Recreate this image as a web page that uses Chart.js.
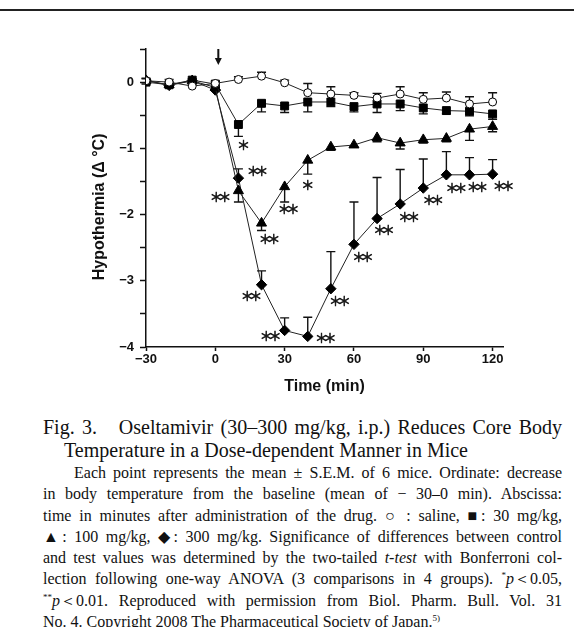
<!DOCTYPE html>
<html>
<head>
<meta charset="utf-8">
<script src="https://cdn.jsdelivr.net/npm/chart.js@4"></script>
<style>
  html, body { margin: 0; padding: 0; background: #fff; }
  body { width: 574px; height: 627px; position: relative; overflow: hidden; }
  #rule { position: absolute; left: 0; top: 9px; width: 574px; height: 2px; background: #222; }
  #wrap { position: absolute; left: 0; top: 0; width: 574px; height: 400px; }
  #cap { position: absolute; left: 43px; top: 416px; width: 519px; font-family: "Liberation Serif", "Times New Roman", serif; font-size: 20px; line-height: 23px; color: #111; }
  #cap .l1 { text-align: justify; text-align-last: justify; white-space: nowrap; }
  #cap .l2 { padding-left: 21px; white-space: nowrap; }
  #body { position: absolute; left: 43px; top: 462px; width: 519px; font-family: "Liberation Serif", "Times New Roman", serif; font-size: 16px; line-height: 21.3px; color: #111; }
  #body div { text-align: justify; text-align-last: justify; white-space: nowrap; }
  #body div.first { padding-left: 31px; }
  #body div.last { text-align-last: left; }
  sup { font-size: 9px; line-height: 0; }
</style>
</head>
<body>
<div id="rule"></div>
<div id="wrap"><canvas id="c"></canvas></div>
<div id="cap">
  <div class="l1">Fig. 3.&nbsp;&nbsp; Oseltamivir (30–300 mg/kg, i.p.) Reduces Core Body</div>
  <div class="l2">Temperature in a Dose-dependent Manner in Mice</div>
</div>
<div id="body">
  <div class="first">Each point represents the mean ± S.E.M. of 6 mice. Ordinate: decrease</div>
  <div>in body temperature from the baseline (mean of − 30–0 min). Abscissa:</div>
  <div>time in minutes after administration of the drug. ○ : saline, ■: 30 mg/kg,</div>
  <div>▲: 100 mg/kg, ◆: 300 mg/kg. Significance of differences between control</div>
  <div>and test values was determined by the two-tailed <i>t-test</i> with Bonferroni col-</div>
  <div>lection following one-way ANOVA (3 comparisons in 4 groups). <sup>*</sup><i>p</i>＜0.05,</div>
  <div><sup>**</sup><i>p</i>＜0.01. Reproduced with permission from Biol. Pharm. Bull. Vol. 31</div>
  <div class="last">No. 4. Copyright 2008 The Pharmaceutical Society of Japan.<sup>5)</sup></div>
</div>
<script>
// ---- data ----
const times = [-30, -20, -10, 0, 10, 20, 30, 40, 50, 60, 70, 80, 90, 100, 110, 120];
const saline    = [0.02, 0.00, -0.06, -0.02, 0.04, 0.09, -0.01, -0.16, -0.18, -0.20, -0.24, -0.18, -0.26, -0.24, -0.33, -0.30];
const salineErr = [0.03, 0.04, 0.03, 0.03, 0.04, 0.06, 0.04, 0.14, 0.11, 0.04, 0.07, 0.11, 0.10, 0.09, 0.11, 0.14];
const dose30    = [0.00, -0.04, 0.03, -0.03, -0.64, -0.32, -0.36, -0.30, -0.30, -0.37, -0.33, -0.33, -0.39, -0.43, -0.44, -0.48];
const dose30Err = [0.03, 0.03, 0.03, 0.03, 0.18, 0.13, 0.10, 0.15, 0.07, 0.08, 0.13, 0.10, 0.09, 0.05, 0.07, 0.08];
const dose100   = [0.02, -0.04, 0.02, -0.08, -1.64, -2.13, -1.58, -1.18, -0.98, -0.95, -0.84, -0.92, -0.87, -0.85, -0.71, -0.67];
const dose100Err= [0.03, 0.03, 0.03, 0.03, 0.17, 0.11, 0.23, 0.21, 0.05, 0.03, 0.06, 0.09, 0.05, 0.05, 0.17, 0.08];
const dose300   = [0.03, -0.05, 0.02, -0.12, -1.45, -3.06, -3.75, -3.84, -3.12, -2.45, -2.06, -1.84, -1.60, -1.40, -1.40, -1.39];
const dose300Err= [0.03, 0.03, 0.03, 0.04, 0.14, 0.21, 0.19, 0.29, 0.56, 0.64, 0.62, 0.52, 0.44, 0.35, 0.26, 0.22];
const xTicks = [-30, 0, 30, 60, 90, 120];
const yTicks = [0.5, 0, -0.5, -1, -1.5, -2, -2.5, -3, -3.5, -4];
// significance marks: [series, time index, label]
const sigMarks = [
  [1, 4, '*'], [3, 4, '**'], [2, 4, '**'], [2, 5, '**'], [2, 6, '**'], [2, 7, '*'],
  [3, 5, '**'], [3, 6, '**'], [3, 7, '**'], [3, 8, '**'], [3, 9, '**'], [3, 10, '**'],
  [3, 11, '**'], [3, 12, '**'], [3, 13, '**'], [3, 14, '**'], [3, 15, '**']
];
// label offsets (px) from the point
const sigOffsets = [
  [5, 21], [19, -7], [-18, 6], [8, 16], [4, 22], [0, 25],
  [-10, 11], [-14, 6], [18, 2], [9, 12], [9, 13], [7, 12],
  [9, 13], [10, 12], [10, 13], [8, 12], [11, 12]
];

const pts = (vals) => times.map((t, i) => ({x: t, y: vals[i]}));

const errorBars = {
  id: 'errorBars',
  beforeDatasetsDraw(chart) {
    const ctx = chart.ctx, y = chart.scales.y;
    ctx.save();
    ctx.strokeStyle = '#111';
    ctx.lineWidth = 1.4;
    chart.data.datasets.forEach((ds, di) => {
      const meta = chart.getDatasetMeta(di);
      meta.data.forEach((el, i) => {
        const v = ds.data[i].y, e = ds.err[i] * ds.dir;
        const py = y.getPixelForValue(v + e);
        ctx.beginPath();
        ctx.moveTo(el.x, el.y);
        ctx.lineTo(el.x, py);
        ctx.moveTo(el.x - 4.5, py);
        ctx.lineTo(el.x + 4.5, py);
        ctx.stroke();
      });
    });
    ctx.restore();
  },
  afterDatasetsDraw(chart) {
    const ctx = chart.ctx;
    ctx.save();
    ctx.fillStyle = '#111';
    ctx.strokeStyle = '#111';
    ctx.lineWidth = 0.6;
    ctx.font = '13px "Noto Sans CJK JP"';
    ctx.textAlign = 'center';
    ctx.textBaseline = 'middle';
    const gap = 8.6;
    sigMarks.forEach(([s, i, lab], k) => {
      const el = chart.getDatasetMeta(s).data[i];
      const cx = el.x + sigOffsets[k][0], cy = el.y + sigOffsets[k][1];
      const n = lab.length;
      for (let j = 0; j < n; j++) {
        const gx = cx + (j - (n - 1) / 2) * gap;
        ctx.fillText('＊', gx, cy);
        ctx.strokeText('＊', gx, cy);
      }
    });
    // drug administration arrow at time 0
    const ax = chart.scales.x.getPixelForValue(0) + 3;
    const top = chart.chartArea.top;
    ctx.fillRect(ax - 1, top, 2, 11);
    ctx.beginPath();
    ctx.moveTo(ax - 3.5, top + 9);
    ctx.lineTo(ax + 3.5, top + 9);
    ctx.lineTo(ax, top + 16);
    ctx.closePath();
    ctx.fill();
    ctx.restore();
  }
};

const common = { borderColor: '#222', borderWidth: 1, pointBorderColor: '#000', pointBorderWidth: 1, fill: false, tension: 0 };

new Chart(document.getElementById('c'), {
  type: 'line',
  data: {
    datasets: [
      Object.assign({}, common, { label: 'saline', data: pts(saline), err: salineErr, dir: 1, pointStyle: 'circle', pointRadius: 4, pointBackgroundColor: '#fff' }),
      Object.assign({}, common, { label: '30 mg/kg', data: pts(dose30), err: dose30Err, dir: -1, pointStyle: 'rect', pointRadius: 5.6, pointBackgroundColor: '#000' }),
      Object.assign({}, common, { label: '100 mg/kg', data: pts(dose100), err: dose100Err, dir: -1, pointStyle: 'triangle', pointRadius: 5.8, pointBackgroundColor: '#000' }),
      Object.assign({}, common, { label: '300 mg/kg', data: pts(dose300), err: dose300Err, dir: 1, pointStyle: 'rectRot', pointRadius: 5.2, pointBackgroundColor: '#000' })
    ]
  },
  options: {
    responsive: true,
    maintainAspectRatio: false,
    animation: false,
    layout: { padding: { left: 0, right: 71, top: 49, bottom: 0 } },
    plugins: { legend: { display: false }, tooltip: { enabled: false } },
    scales: {
      x: {
        type: 'linear', min: -30, max: 124.5,
        afterBuildTicks: (s) => { s.ticks = xTicks.map(v => ({value: v})); },
        afterFit: (s) => { s.height = 53; },
        border: { display: true, color: '#111', width: 1.5 },
        grid: { display: true, drawOnChartArea: false, drawTicks: true, tickLength: 4, color: '#111', tickWidth: 1.5 },
        ticks: { color: '#111', padding: 1, maxRotation: 0, font: { family: '"Liberation Sans", Arial, sans-serif', weight: 'bold', size: 13 },
                 callback: (v) => (v < 0 ? '−' + Math.abs(v) : String(v)) },
        title: { display: true, text: 'Time (min)', color: '#111', padding: { top: 0, bottom: 4 },
                 font: { family: '"Liberation Sans", Arial, sans-serif', weight: 'bold', size: 16 } }
      },
      y: {
        type: 'linear', min: -4, max: 0.5,
        afterBuildTicks: (s) => { s.ticks = yTicks.map(v => ({value: v})); },
        afterFit: (s) => { s.width = 146; },
        border: { display: true, color: '#111', width: 1.5 },
        grid: { display: true, drawOnChartArea: false, drawTicks: true, tickLength: 6, color: '#111', tickWidth: 1.5 },
        ticks: { color: '#111', padding: 6, font: { family: '"Liberation Sans", Arial, sans-serif', weight: 'bold', size: 13 },
                 callback: (v) => (Number.isInteger(v) ? (v < 0 ? '−' + Math.abs(v) : String(v)) : '') },
        title: { display: true, text: 'Hypothermia (Δ °C)    ', color: '#111', padding: { top: 90, bottom: 0 },
                 font: { family: '"Liberation Sans", Arial, sans-serif', weight: 'bold', size: 16 } }
      }
    }
  },
  plugins: [errorBars]
});
</script>
</body>
</html>
